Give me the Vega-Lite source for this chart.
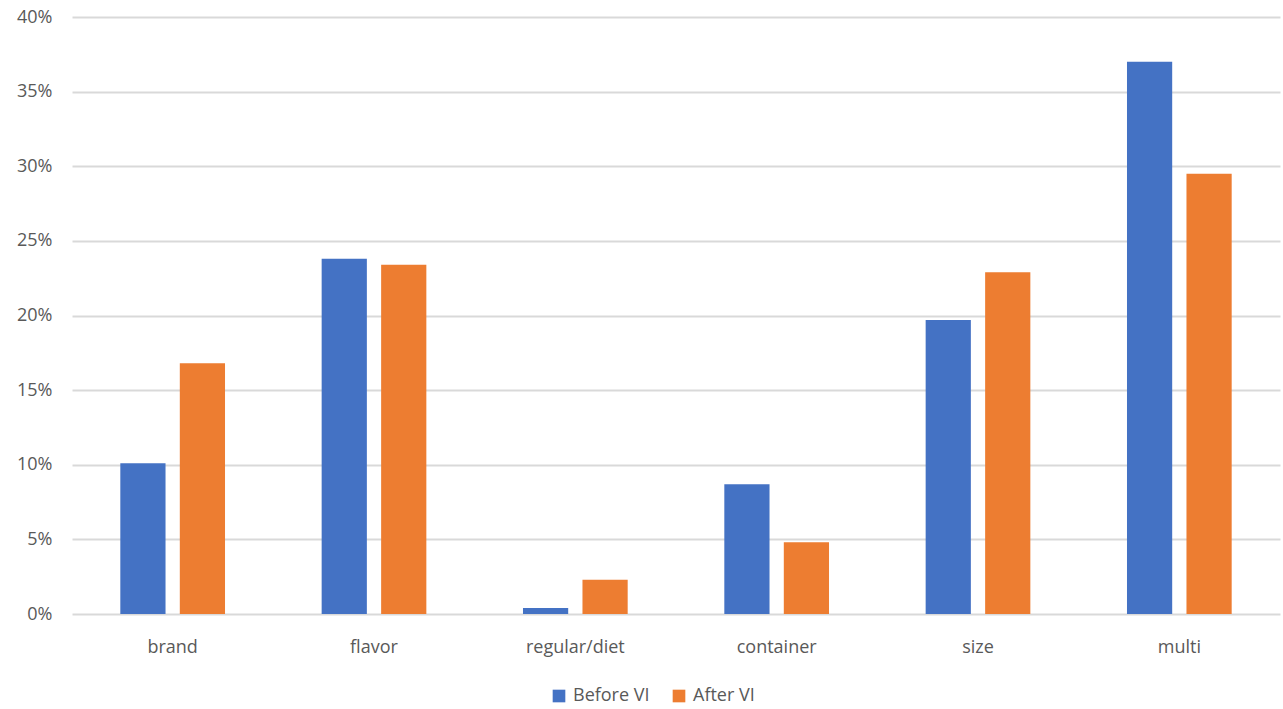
{
  "$schema": "https://vega.github.io/schema/vega-lite/v6.json",
  "width": 1208,
  "height": 597,
  "autosize": {"type": "none"},
  "padding": {"left": 72, "top": 17, "right": 3, "bottom": 95},
  "background": "#ffffff",
  "config": {
    "font": "Open Sans",
    "view": {"stroke": null},
    "axis": {"labelColor": "#595959", "labelFontSize": 18, "labelFont": "Open Sans"},
    "legend": {"labelColor": "#595959", "labelFontSize": 18, "labelFont": "Open Sans"}
  },
  "data": {
    "values": [
      {"category": "brand", "series": "Before VI", "share": 0.101},
      {"category": "brand", "series": "After VI", "share": 0.168},
      {"category": "flavor", "series": "Before VI", "share": 0.238},
      {"category": "flavor", "series": "After VI", "share": 0.234},
      {"category": "regular/diet", "series": "Before VI", "share": 0.004},
      {"category": "regular/diet", "series": "After VI", "share": 0.023},
      {"category": "container", "series": "Before VI", "share": 0.087},
      {"category": "container", "series": "After VI", "share": 0.048},
      {"category": "size", "series": "Before VI", "share": 0.197},
      {"category": "size", "series": "After VI", "share": 0.229},
      {"category": "multi", "series": "Before VI", "share": 0.370},
      {"category": "multi", "series": "After VI", "share": 0.295}
    ]
  },
  "mark": {"type": "bar"},
  "encoding": {
    "x": {
      "field": "category",
      "type": "nominal",
      "sort": null,
      "title": null,
      "scale": {"paddingInner": 0.48, "paddingOuter": 0.24},
      "axis": {"labelAngle": 0, "domain": false, "ticks": false, "labelPadding": 24, "grid": false}
    },
    "xOffset": {
      "field": "series",
      "type": "nominal",
      "sort": ["Before VI", "After VI"],
      "scale": {"paddingInner": 0.24, "paddingOuter": 0}
    },
    "y": {
      "field": "share",
      "type": "quantitative",
      "title": null,
      "scale": {"domain": [0, 0.4]},
      "axis": {
        "values": [0, 0.05, 0.1, 0.15, 0.2, 0.25, 0.3, 0.35, 0.4],
        "format": ".0%",
        "domain": false,
        "ticks": false,
        "labelPadding": 20,
        "grid": true,
        "gridColor": "#d9d9d9",
        "gridWidth": 2
      }
    },
    "color": {
      "field": "series",
      "type": "nominal",
      "title": null,
      "scale": {"domain": ["Before VI", "After VI"], "range": ["#4472C4", "#ED7D31"]},
      "legend": {
        "orient": "none",
        "legendX": 478,
        "legendY": 670,
        "direction": "horizontal",
        "symbolType": "square",
        "symbolSize": 160,
        "symbolStrokeWidth": 0,
        "columnPadding": 20,
        "labelOffset": 5
      }
    }
  }
}
